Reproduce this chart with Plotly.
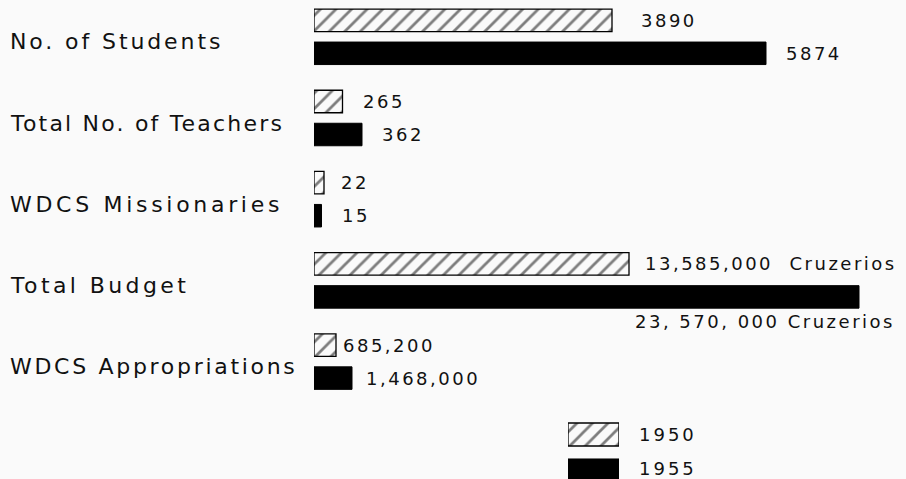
import plotly.graph_objects as go

# ---------------- data ----------------
categories = ["No. of Students", "Total No. of Teachers", "WDCS Missionaries",
              "Total Budget", "WDCS Appropriations"]
years = ["1950", "1955"]
# drawn bar lengths (chart units)
bar_1950 = [298, 28.5, 10, 315, 22]
bar_1955 = [452, 48, 7.5, 545, 38]
labels_1950 = ["3890", "265", "22", "13,585,000\u00a0 Cruzerios", "685,200"]
labels_1955 = ["5874", "362", "15", "23, 570, 000 Cruzerios", "1,468,000"]

# ---------------- layout / style ----------------
W, H = 906, 479
AXIS_LEFT = 314
BG = "#fafafa"
INK = "#000000"
TXT = "#111111"
FONT = "DejaVu Sans"
PAIR_TOP, PAIR_STEP = 36.8, 81.2   # px of first category centre, px per category

# per-label placement (style, not data)
cat_spacing = [2.9, 2.2, 3.7, 3.4, 2.7]
gap_1950 = [27, 18.5, 15, 14, 5]
gap_1955 = [18, 18, 18.5, 38, 12]
anchor_1955 = ["left", "left", "left", "right", "left"]
drop_1955 = [0, 0, 0, 25, 0]
spacing_1950 = [2.5, 2.5, 2.5, 2.5, 2.5]
spacing_1955 = [2.5, 2.5, 2.5, 2.5, 2.5]
BAR_OFF = 16.5

def spaced(t, ls=2.5):
    return f'<span style="letter-spacing:{ls}px">{t}</span>'

hatch = dict(shape="/", fgcolor=INK, bgcolor=BG, size=11, solidity=0.25)

fig = go.Figure()
fig.add_trace(go.Bar(
    y=categories, x=bar_1950, orientation="h", name=years[0],
    marker=dict(color=BG, pattern=hatch, line=dict(color=INK, width=1.3)),
    hoverinfo="skip"))
fig.add_trace(go.Bar(
    y=categories, x=bar_1955, orientation="h", name=years[1],
    marker=dict(color=INK, line=dict(color=INK, width=1)),
    hoverinfo="skip"))

# legend keys drawn as bars in a small sub-plot
fig.add_trace(go.Bar(
    y=[years[0]], x=[1], orientation="h", width=0.64, xaxis="x2", yaxis="y2",
    marker=dict(color=BG, pattern=hatch, line=dict(color=INK, width=1.3)),
    hoverinfo="skip", showlegend=False))
fig.add_trace(go.Bar(
    y=[years[1]], x=[1], orientation="h", width=0.64, xaxis="x2", yaxis="y2",
    marker=dict(color=INK, line=dict(color=INK, width=1)),
    hoverinfo="skip", showlegend=False))

ann = []
lab_font = dict(family=FONT, size=22, color=TXT)
val_font = dict(family=FONT, size=18, color=TXT)
for i, c in enumerate(categories):
    ann.append(dict(x=8 / W, xref="paper", y=c, yref="y", yshift=-5,
                    text=spaced(c, cat_spacing[i]), showarrow=False, xanchor="left",
                    align="left", font=lab_font))
    ann.append(dict(x=bar_1950[i], xref="x", y=c, yref="y", yshift=BAR_OFF,
                    xshift=gap_1950[i], text=spaced(labels_1950[i], spacing_1950[i]),
                    showarrow=False, xanchor="left", align="left", font=val_font))
    ann.append(dict(x=bar_1955[i], xref="x", y=c, yref="y",
                    yshift=-BAR_OFF - drop_1955[i],
                    xshift=gap_1955[i], text=spaced(labels_1955[i], spacing_1955[i]),
                    showarrow=False, xanchor=anchor_1955[i], align="left",
                    font=val_font))
for k, yr in enumerate(years):
    ann.append(dict(x=637 / W, xref="paper", y=k, yref="y2", text=spaced(yr, 3),
                    yshift=2 * k, showarrow=False, xanchor="left", align="left",
                    font=val_font))

y_top = -PAIR_TOP / PAIR_STEP
y_bot = (H - PAIR_TOP) / PAIR_STEP

hidden = dict(showgrid=False, zeroline=False, showticklabels=False,
              showline=False, ticks="")
fig.update_layout(
    width=W, height=H, margin=dict(l=0, r=0, t=0, b=0),
    paper_bgcolor=BG, plot_bgcolor=BG, showlegend=False,
    barmode="group", bargap=0.187, bargroupgap=0.318,
    xaxis=dict(domain=[AXIS_LEFT / W, 1], range=[0, W - AXIS_LEFT], **hidden),
    yaxis=dict(type="category", categoryorder="array", categoryarray=categories,
               range=[y_bot, y_top], **hidden),
    xaxis2=dict(domain=[568 / W, 619 / W], range=[0, 1], anchor="y2", **hidden),
    yaxis2=dict(domain=[0, 1 - 416.5 / H], type="category", anchor="x2",
                categoryorder="array", categoryarray=years,
                range=[1 + (H - 470.5) / 36, -0.5], **hidden),
    annotations=ann,
)

fig.write_html("out.html", config={"displayModeBar": False},
               post_script="document.body.style.margin='0';"
                           "document.body.style.background='#fafafa';")
